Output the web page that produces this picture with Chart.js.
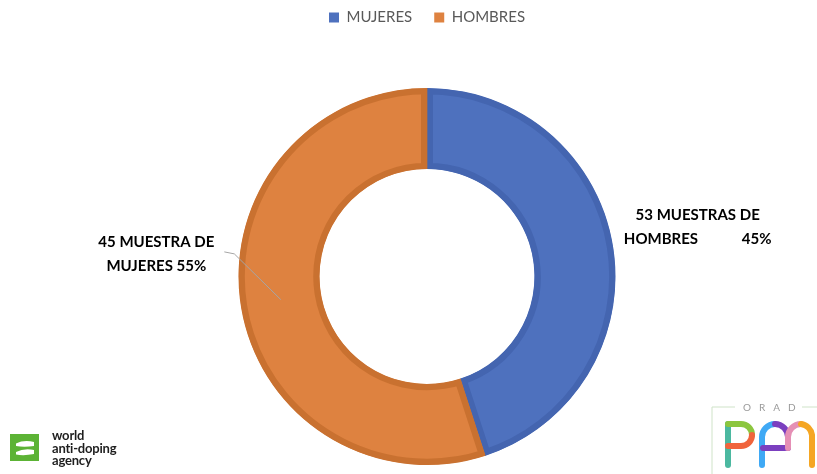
<!DOCTYPE html>
<html>
<head>
<meta charset="utf-8">
<script src="https://cdn.jsdelivr.net/npm/chart.js@4.4.0/dist/chart.umd.min.js"></script>
<style>
  html, body { margin: 0; padding: 0; background: #fff; }
  #wrap { position: relative; width: 817px; height: 474px; overflow: hidden; }
  #wada { position: absolute; left: 10px; top: 434px; }
  #wada-text { position: absolute; left: 52px; top: 429px; font: bold 13px Lato, sans-serif; line-height: 12.5px; color: #1e1e1e; letter-spacing: -0.2px; }
  #orad { position: absolute; left: 705px; top: 398px; }
</style>
</head>
<body>
<div id="wrap">
  <canvas id="chart" width="817" height="474"></canvas>

  <!-- wada logo -->
  <svg id="wada" width="30" height="28" viewBox="0 0 30 28">
    <rect x="0" y="0" width="29" height="27" fill="#5cb335"/>
    <path d="M6,9.5 Q14,5.5 24,8 L24,12 Q14,13.5 6,12 Z" fill="#fff"/>
    <path d="M6,18 Q14,14 24,16 L24,20 Q14,22 6,20.5 Z" fill="#fff"/>
  </svg>
  <div id="wada-text">world<br>anti-doping<br>agency</div>

  <!-- orad pan logo -->
  <svg id="orad" width="112" height="76" viewBox="0 0 112 76">
    <path d="M7,9 H30 M7,9 V76 M97,9 H112" stroke="#cfe3c8" stroke-width="1" fill="none"/>
    <text x="38" y="13" font-family="Lato, sans-serif" font-size="10" fill="#9a9a9a" letter-spacing="8">ORAD</text>
    <g fill="none" stroke-width="6" stroke-linecap="round">
      <path d="M23,26 V67" stroke="#4bb8a0"/>
      <path d="M23,26 H36 A11 11 0 0 1 47,37" stroke="#8cc63f"/>
      <path d="M47,37 A11 11 0 0 1 36,48 H23" stroke="#f0643c"/>
      <path d="M57,67 V39 A13 13 0 0 1 70,26" stroke="#3fa9f5"/>
      <path d="M70,26 A13 13 0 0 1 83,39 V50" stroke="#7b3fbf"/>
      <path d="M58,50 H80" stroke="#7b3fbf"/>
      <path d="M83,50 V39 A13 13 0 0 1 96,26" stroke="#e58fb5"/>
      <path d="M96,26 A13 13 0 0 1 107,37 V67" stroke="#f5a623"/>
    </g>
  </svg>
</div>
<script>
// chart data
const sliceNames  = ['MUJERES', 'HOMBRES'];
const sliceValues = [45, 55];
const sliceLabels = [
  ['53 MUESTRAS DE', 'HOMBRES            45%'],
  ['45 MUESTRA DE', 'MUJERES 55%']
];

// colours
const fills   = ['#4e71be', '#de8240'];
const borders = ['#4465b0', '#c97130'];

// where each label sits, in units of the outer radius from the centre
const labelSpots = [
  { dx: 1.436, dy: -0.26, leader: false },
  { dx: -1.436, dy: -0.12, leader: true }
];

// push the doughnut down below the legend
const legendGap = {
  id: 'legendGap',
  beforeInit(chart) {
    const fit = chart.legend.fit;
    chart.legend.fit = function () {
      fit.bind(chart.legend)();
      this.height += 53;
    };
  }
};

// draws the outside labels and the leader line
const outsideLabels = {
  id: 'outsideLabels',
  afterDatasetsDraw(chart) {
    const ctx = chart.ctx;
    const meta = chart.getDatasetMeta(0);
    ctx.save();
    ctx.font = 'bold 15px Lato, sans-serif';
    ctx.fillStyle = '#000';
    ctx.textAlign = 'center';
    ctx.textBaseline = 'middle';
    meta.data.forEach((arc, i) => {
      const p = arc.getProps(['x', 'y', 'outerRadius'], true);
      const spot = labelSpots[i];
      const lx = p.x + spot.dx * p.outerRadius;
      const ly = p.y + spot.dy * p.outerRadius;
      const lines = sliceLabels[i];
      lines.forEach((t, k) => {
        ctx.fillText(t, lx, ly + (k - (lines.length - 1) / 2) * 24);
      });
      if (spot.leader) {
        const c = arc.tooltipPosition(true);
        ctx.strokeStyle = '#a6a6a6';
        ctx.lineWidth = 1;
        ctx.beginPath();
        ctx.moveTo(lx + 68, ly - 2);
        ctx.lineTo(lx + 78, ly);
        ctx.lineTo(c.x, c.y);
        ctx.stroke();
      }
    });
    ctx.restore();
  }
};

new Chart(document.getElementById('chart'), {
  type: 'doughnut',
  data: {
    labels: sliceNames,
    datasets: [{
      data: sliceValues,
      backgroundColor: fills,
      borderColor: borders,
      borderWidth: 6,
      borderAlign: 'inner'
    }]
  },
  options: {
    responsive: false,
    animation: false,
    cutout: '57%',
    layout: { padding: { left: 37, right: 0, top: -12, bottom: 9 } },
    plugins: {
      tooltip: { enabled: false },
      legend: {
        position: 'top',
        labels: {
          boxWidth: 10,
          boxHeight: 10,
          padding: 22,
          color: '#595959',
          font: { family: 'Lato, sans-serif', size: 15 },
          generateLabels(chart) {
            const items = Chart.overrides.doughnut.plugins.legend.labels.generateLabels(chart);
            return items.map((it) => Object.assign(it, { lineWidth: 0, strokeStyle: it.fillStyle }));
          }
        }
      }
    }
  },
  plugins: [legendGap, outsideLabels]
});
</script>
</body>
</html>
